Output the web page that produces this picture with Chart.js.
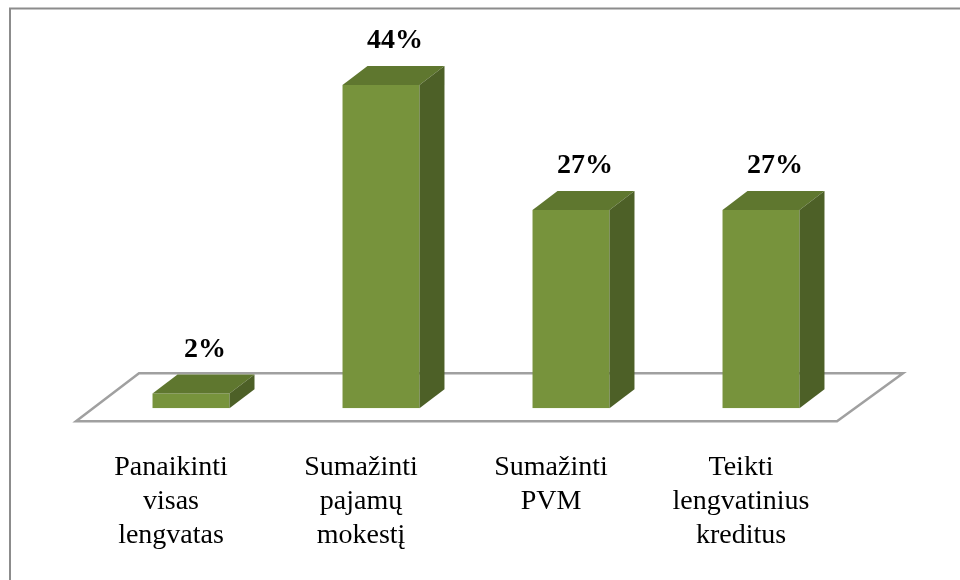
<!DOCTYPE html>
<html>
<head>
<meta charset="utf-8">
<script src="https://cdn.jsdelivr.net/npm/chart.js@4/dist/chart.umd.min.js"></script>
<style>
  body { margin: 0; background: #fff; }
  #wrap { width: 960px; height: 580px; position: relative; }
</style>
</head>
<body>
<div id="wrap"><canvas id="chart" width="960" height="580"></canvas></div>
<script>
const categories = [
  ['Panaikinti', 'visas', 'lengvatas'],
  ['Sumažinti', 'pajamų', 'mokestį'],
  ['Sumažinti', 'PVM'],
  ['Teikti', 'lengvatinius', 'kreditus']
];
const shares = [2, 44, 27, 27];
const valueLabels = ['2%', '44%', '27%', '27%'];

const FRONT = '#77933c';
const TOP = '#5f772f';
const SIDE = '#4d6027';
const DX = 25, DY = 19;

// frame, floor and the 3D faces around each bar
const box3d = {
  id: 'box3d',
  beforeDraw(chart) {
    const ctx = chart.ctx;
    ctx.save();
    ctx.strokeStyle = '#8c8c8c';
    ctx.lineWidth = 2;
    ctx.beginPath();
    ctx.moveTo(10, 580);
    ctx.lineTo(10, 8.5);
    ctx.lineTo(960, 8.5);
    ctx.stroke();
    ctx.restore();
  },
  beforeDatasetsDraw(chart) {
    const ctx = chart.ctx;
    const x = chart.scales.x;
    const y0 = chart.scales.y.getPixelForValue(0);
    ctx.save();
    ctx.strokeStyle = '#a0a0a0';
    ctx.lineWidth = 2.5;
    ctx.beginPath();
    ctx.moveTo(x.left - 20, y0 + 13);
    ctx.lineTo(x.right - 19, y0 + 13);
    ctx.lineTo(x.right + 47, y0 - 35);
    ctx.lineTo(x.left + 43, y0 - 35);
    ctx.closePath();
    ctx.fillStyle = '#ffffff';
    ctx.fill();
    ctx.stroke();
    ctx.restore();
  },
  afterDatasetsDraw(chart) {
    const ctx = chart.ctx;
    const meta = chart.getDatasetMeta(0);
    ctx.save();
    meta.data.forEach((bar, i) => {
      const l = bar.x - bar.width / 2;
      const r = bar.x + bar.width / 2;
      const t = bar.y;
      const b = bar.base;
      ctx.fillStyle = TOP;
      ctx.beginPath();
      ctx.moveTo(l, t);
      ctx.lineTo(l + DX, t - DY);
      ctx.lineTo(r + DX, t - DY);
      ctx.lineTo(r, t);
      ctx.closePath();
      ctx.fill();
      ctx.fillStyle = SIDE;
      ctx.beginPath();
      ctx.moveTo(r, t);
      ctx.lineTo(r + DX, t - DY);
      ctx.lineTo(r + DX, b - DY);
      ctx.lineTo(r, b);
      ctx.closePath();
      ctx.fill();

      ctx.fillStyle = '#000';
      ctx.font = 'bold 28px "Liberation Serif", "Times New Roman", serif';
      ctx.textAlign = 'center';
      ctx.textBaseline = 'middle';
      ctx.fillText(valueLabels[i], bar.x + 14, t - 44);
    });
    ctx.restore();
  }
};

new Chart(document.getElementById('chart'), {
  type: 'bar',
  data: {
    labels: categories,
    datasets: [{
      data: shares,
      backgroundColor: FRONT,
      borderWidth: 0,
      categoryPercentage: 1,
      barPercentage: 0.405
    }]
  },
  options: {
    responsive: false,
    animation: false,
    layout: { padding: { top: 41, left: 96, right: 104, bottom: -15 } },
    plugins: { legend: { display: false }, tooltip: { enabled: false } },
    scales: {
      y: { display: false, min: 0, max: 50 },
      x: {
        grid: { display: false, drawTicks: false },
        border: { display: false },
        ticks: {
          color: '#000',
          padding: 43,
          labelOffset: -20,
          maxRotation: 0,
          autoSkip: false,
          font: { family: '"Liberation Serif", "Times New Roman", serif', size: 28, lineHeight: 1.2 }
        }
      }
    }
  },
  plugins: [box3d]
});
</script>
</body>
</html>
